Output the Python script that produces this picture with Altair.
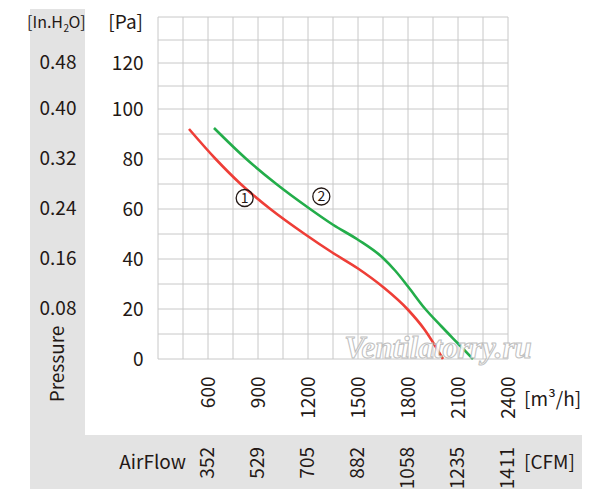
import altair as alt
import pandas as pd

# ---- data ----
red_flow = [486, 646, 796, 974, 1180, 1350, 1500, 1650, 1800, 1900, 2010]
red_pa = [92, 80, 70, 60, 50, 42.4, 36.2, 28.8, 19.7, 11.7, 0]
green_flow = [636, 830, 1010, 1200, 1350, 1500, 1650, 1725, 1800, 1900, 2000, 2100, 2190]
green_pa = [92.4, 80, 70, 60.6, 53.7, 47.7, 40.4, 35.2, 29, 20.3, 13.1, 6.2, 0]

x_grid = list(range(300, 2401, 150))
y_grid = list(range(0, 141, 10))

inh2o_pa = [20, 40, 60, 80, 100, 120]
inh2o_labels = ["0.08", "0.16", "0.24", "0.32", "0.40", "0.48"]

cfm_flow = [600, 900, 1200, 1500, 1800, 2100, 2400]
cfm_labels = ["352", "529", "705", "882", "1058", "1235", "1411"]

tag_flow = [820, 1280]
tag_pa = [64.4, 65]
tag_text = ["1", "2"]

RED = "#ee3e37"
GREEN = "#23ad4a"
INK = "#231815"
BAND = "#e3e3e3"
GRID = "#c8c8c8"
FONT = "Noto Sans CJK SC"

curves = pd.DataFrame(
    {"flow": red_flow + green_flow,
     "pa": red_pa + green_pa,
     "fan": ["1"] * len(red_flow) + ["2"] * len(green_flow)}
)

xscale = alt.Scale(domain=[300, 2400], nice=False, zero=False)
yscale = alt.Scale(domain=[0, 100, 140], range=[342, 92, 0], nice=False, zero=False)

xaxis = alt.Axis(
    values=x_grid, title=None, format="d",
    labelExpr="datum.value >= 600 && datum.value % 300 == 0 ? datum.label : ''",
    labelAngle=270, labelAlign="right", labelBaseline="middle", labelPadding=17,
    ticks=False, tickSize=0, domain=False, grid=False,
    labelFont=FONT, labelFontSize=19, labelColor=INK, labelOverlap=False, labelFlush=False,
)
yaxis = alt.Axis(
    values=y_grid, title=None, format="d",
    labelExpr="datum.value % 20 == 0 && datum.value <= 120 ? datum.label : ''",
    labelPadding=15, ticks=False, tickSize=0, domain=False, grid=False,
    labelFont=FONT, labelFontSize=19, labelColor=INK,
    labelOverlap=False, labelFlush=False,
)

one = alt.Data(values=[{"a": 1}])

band_left = alt.Chart(one).mark_rect(color=BAND).encode(
    x=alt.value(-128), x2=alt.value(-73), y=alt.value(-8), y2=alt.value(472)
)
band_bottom = alt.Chart(one).mark_rect(color=BAND).encode(
    x=alt.value(-128), x2=alt.value(424), y=alt.value(418), y2=alt.value(472)
)

vgrid = alt.Chart(pd.DataFrame({"flow": x_grid})).mark_rule(color=GRID, strokeWidth=1).encode(
    x=alt.X("flow:Q", scale=xscale, axis=xaxis), y=alt.value(0), y2=alt.value(342)
)
hgrid = alt.Chart(pd.DataFrame({"pa": y_grid})).mark_rule(color=GRID, strokeWidth=1).encode(
    y=alt.Y("pa:Q", scale=yscale, axis=yaxis), x=alt.value(0), x2=alt.value(350)
)

lines = alt.Chart(curves).mark_line(strokeWidth=2.6, interpolate="monotone").encode(
    x=alt.X("flow:Q", scale=xscale),
    y=alt.Y("pa:Q", scale=yscale),
    color=alt.Color("fan:N", scale=alt.Scale(domain=["1", "2"], range=[RED, GREEN]), legend=None),
)

inh2o = alt.Chart(pd.DataFrame({"pa": inh2o_pa, "t": inh2o_labels})).mark_text(
    font=FONT, fontSize=19, color=INK, align="center", baseline="middle"
).encode(x=alt.value(-100), y=alt.Y("pa:Q", scale=yscale), text="t:N")

cfm = alt.Chart(pd.DataFrame({"flow": cfm_flow, "t": cfm_labels})).mark_text(
    font=FONT, fontSize=19, color=INK, angle=270, align="right", baseline="middle"
).encode(x=alt.X("flow:Q", scale=xscale), y=alt.value(430), text="t:N")

tags_df = pd.DataFrame({"flow": tag_flow, "pa": tag_pa, "t": tag_text})
tag_circles = alt.Chart(tags_df).mark_point(
    shape="circle", size=290, filled=False, stroke=INK, strokeWidth=1.3, opacity=1
).encode(x=alt.X("flow:Q", scale=xscale), y=alt.Y("pa:Q", scale=yscale))
tag_digits = alt.Chart(tags_df).mark_text(
    font=FONT, fontSize=14, color=INK, align="center", baseline="middle", dy=0.5
).encode(x=alt.X("flow:Q", scale=xscale), y=alt.Y("pa:Q", scale=yscale), text="t:N")


def label(text, x, y, align="left", angle=0, size=19, font=FONT, **kw):
    return alt.Chart(alt.Data(values=[{"t": text}])).mark_text(
        font=font, fontSize=size, color=kw.pop("color", INK), align=align,
        baseline="middle", angle=angle, **kw
    ).encode(x=alt.value(x), y=alt.value(y), text="t:N")


labels = [
    label("[Pa]", -15, 6, align="right"),
    label("[In.H", -95, 6, align="right", size=16),
    label("2", -94.5, 12, align="left", size=10),
    label("O]", -89.5, 6, align="left", size=16),
    label("Pressure", -100.5, 347, align="center", angle=270),
    label("AirFlow", 28, 446, align="right"),
    label("[CFM]", 366, 446),
    label("[m³/h]", 366, 383),
]

watermark = label(
    "Ventilatorry.ru", 280, 332, align="center", size=31, font="Liberation Serif",
    fontStyle="italic", fontWeight="bold", color="#ffffff", stroke="#b9b9b9",
    strokeWidth=1, opacity=0.9,
)

chart = alt.layer(
    band_left, band_bottom, vgrid, hgrid, lines, inh2o, cfm, tag_circles, tag_digits,
    *labels, watermark
).properties(
    width=350, height=342,
    autosize=alt.AutoSizeParams(type="none"),
    padding={"left": 150, "top": 9, "right": 84, "bottom": 140},
    background="white",
).configure_view(stroke=None)

chart.save("out.html", embed_options={"renderer": "svg", "actions": False})
